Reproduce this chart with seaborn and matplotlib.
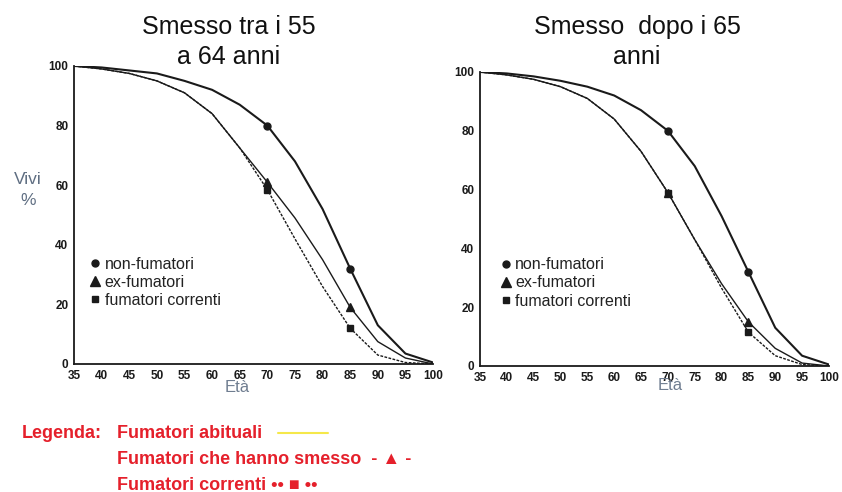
import matplotlib
matplotlib.use("Agg")
import matplotlib.pyplot as plt
from matplotlib.lines import Line2D
import seaborn as sns
import pandas as pd

# Survival curves by age (percent alive)
ages = [35, 40, 45, 50, 55, 60, 65, 70, 75, 80, 85, 90, 95, 100]

left_non = [100, 99.5, 98.5, 97.5, 95, 92, 87, 80, 68, 52, 32, 13, 3.5, 0.5]
left_ex = [100, 99, 97.5, 95, 91, 84, 72.5, 61, 49, 35, 19, 7.5, 2, 0]
left_cur = [100, 99, 97.5, 95, 91, 84, 72.5, 58.5, 42, 26, 12, 3, 0.5, 0]

right_non = [100, 99.5, 98.5, 97, 95, 92, 87, 80, 68, 51, 32, 13, 3.5, 0.5]
right_ex = [100, 99, 97.5, 95, 91, 84, 73, 59, 43, 28, 15, 6, 1, 0]
right_cur = [100, 99, 97.5, 95, 91, 84, 73, 59, 43, 26.5, 11.5, 3.5, 0.5, 0]

marker_ages = [70, 85]
groups = ["non-fumatori", "ex-fumatori", "fumatori correnti"]
titles = ["Smesso tra i 55\na 64 anni", "Smesso  dopo i 65\nanni"]
x_ticks = list(range(35, 101, 5))
y_ticks = [0, 20, 40, 60, 80, 100]

legend_lines = ["Fumatori abituali", "Fumatori che hanno smesso  - \u25b2 -",
                "Fumatori correnti \u2022\u2022 \u25a0 \u2022\u2022"]

sns.set_style("white")
plt.rcParams["font.family"] = ["Liberation Sans", "DejaVu Sans"]

styles = {
    "non-fumatori": dict(lw=1.5, ls="-", marker="o", ms=5, key_ms=5),
    "ex-fumatori": dict(lw=1.0, ls="-", marker="^", ms=5.5, key_ms=7),
    "fumatori correnti": dict(lw=1.0, ls=(0, (2, 1)), marker="s", ms=5, key_ms=5),
}
ink = "#1a1a1a"


def make_frame(non, ex, cur):
    rows = []
    for g, vals in zip(groups, [non, ex, cur]):
        for a, v in zip(ages, vals):
            rows.append({"eta": a, "vivi": v, "gruppo": g})
    return pd.DataFrame(rows)


fig = plt.figure(figsize=(8.42, 4.92), dpi=100)
ax_l = fig.add_axes([0.0879, 0.2602, 0.4264, 0.6057])
ax_r = fig.add_axes([0.570, 0.2561, 0.4145, 0.5976])

panels = [
    (ax_l, make_frame(left_non, left_ex, left_cur), titles[0], (0.045, 0.36), 229),
    (ax_r, make_frame(right_non, right_ex, right_cur), titles[1], (0.06, 0.37), 637),
]

for ax, df, title, leg_pos, tx in panels:
    for g in groups:
        st = styles[g]
        sub = df[df["gruppo"] == g]
        sns.lineplot(data=sub, x="eta", y="vivi", ax=ax, color=ink,
                     lw=st["lw"], ls=st["ls"], legend=False)
        pts = sub[sub["eta"].isin(marker_ages)]
        ax.plot(pts["eta"], pts["vivi"], ls="none", marker=st["marker"],
                ms=st["ms"], color=ink, zorder=5)
    ax.set_xlim(35, 100)
    ax.set_ylim(0, 100)
    ax.set_xticks(x_ticks)
    ax.set_yticks(y_ticks)
    ax.set_xlabel("")
    ax.set_ylabel("")
    for s in ["top", "right"]:
        ax.spines[s].set_visible(False)
    for s in ["left", "bottom"]:
        ax.spines[s].set_color(ink)
        ax.spines[s].set_linewidth(1.3)
    ax.tick_params(axis="both", direction="inout", length=4, width=1,
                   color=ink, labelsize=8.5, pad=2)
    for lab in ax.get_xticklabels() + ax.get_yticklabels():
        lab.set_fontweight("bold")
        lab.set_color(ink)
    handles = [Line2D([], [], ls="none", marker=styles[g]["marker"],
                      ms=styles[g]["key_ms"], color=ink) for g in groups]
    ax.legend(handles, groups, loc="upper left", bbox_to_anchor=leg_pos,
              frameon=False, fontsize=11.5, handlelength=0.6,
              handletextpad=0.3, labelspacing=0.2, borderpad=0,
              borderaxespad=0, labelcolor="#222222")
    fig.text(tx / 842, 1 - 42 / 492, title, ha="center", va="center",
             fontsize=18, family=["Liberation Sans Narrow", "Liberation Sans"],
             color="#111111", linespacing=1.3)

# axis captions
fig.text(28 / 842, 1 - 190 / 492, "Vivi\n%", ha="center", va="center",
         fontsize=12.5, color="#5f6e82", linespacing=1.55)
fig.text(237 / 842, 1 - 388 / 492, "Età", ha="center", va="center",
         fontsize=12, color="#6f7d90")
fig.text(670 / 842, 1 - 386 / 492, "Età", ha="center", va="center",
         fontsize=12, color="#6f7d90")

# red key underneath
red = "#e5202b"
fig.text(22 / 842, 1 - 433 / 492, "Legenda:", ha="left", va="center",
         fontsize=13, fontweight="bold", color=red)
for txt, yy in zip(legend_lines, [433, 460, 485]):
    fig.text(117 / 842, 1 - yy / 492, txt, ha="left", va="center",
             fontsize=13, fontweight="bold", color=red)
fig.add_artist(Line2D([278 / 842, 328 / 842], [1 - 433 / 492, 1 - 433 / 492],
                      color="#f5e84a", lw=1.5))

fig.savefig("out.png", dpi=100, facecolor="white")
